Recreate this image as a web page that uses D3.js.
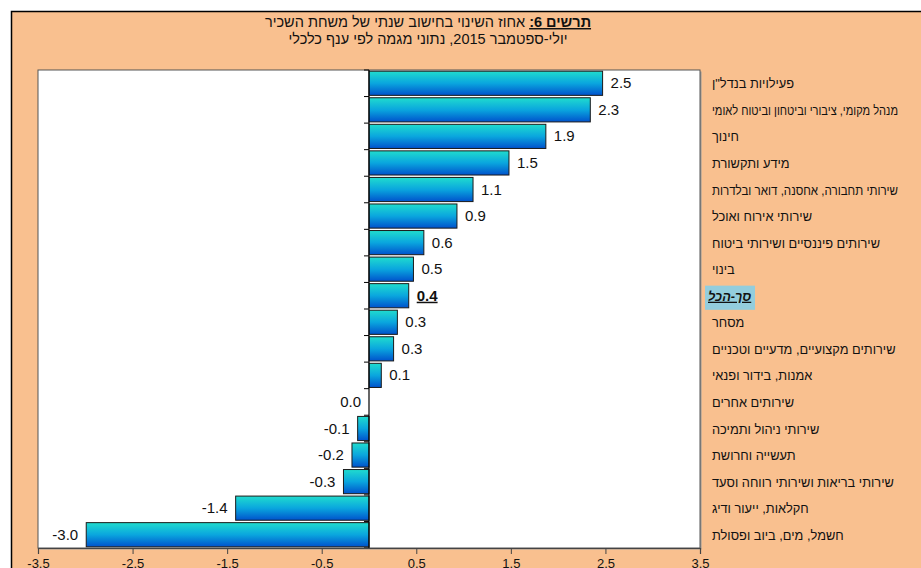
<!DOCTYPE html>
<html><head><meta charset="utf-8">
<script src="https://cdn.jsdelivr.net/npm/d3@7"></script>
<style>html,body{margin:0;padding:0;background:#fff;}svg{display:block;font-family:Arial,"Liberation Sans",sans-serif;}</style>
</head><body>
<svg id="c" width="921" height="568"></svg>
<script>
const categories = [
  'פעילויות בנדל"ן',
  "מנהל מקומי, ציבורי וביטחון וביטוח לאומי",
  "חינוך",
  "מידע ותקשורת",
  "שירותי תחבורה, אחסנה, דואר ובלדרות",
  "שירותי אירוח ואוכל",
  "שירותים פיננסיים ושירותי ביטוח",
  "בינוי",
  "סך-הכל",
  "מסחר",
  "שירותים מקצועיים, מדעיים וטכניים",
  "אמנות, בידור ופנאי",
  "שירותים אחרים",
  "שירותי ניהול ותמיכה",
  "תעשייה וחרושת",
  "שירותי בריאות ושירותי  רווחה וסעד",
  "חקלאות, ייעור ודיג",
  "חשמל, מים, ביוב ופסולת"
];
const values = [2.47, 2.34, 1.87, 1.48, 1.10, 0.93, 0.58, 0.47, 0.42, 0.30, 0.26, 0.13, 0.0, -0.12, -0.18, -0.27, -1.41, -2.99];
const totalCategory = "סך-הכל";
const xTicks = [-3.5, -2.5, -1.5, -0.5, 0.5, 1.5, 2.5, 3.5];
const titleLine1Bold = "תרשים 6:";
const titleLine1Rest = " אחוז השינוי בחישוב שנתי של  משחת השכיר";
const titleLine2 = "יולי-ספטמבר  2015, נתוני מגמה לפי ענף כלכלי";

const svg = d3.select("#c");
const W = 921, H = 568;
const plot = {l: 38, r: 700, t: 70, b: 548};
const locale = d3.formatLocale({decimal: ".", thousands: ",", grouping: [3], currency: ["", ""], minus: "-"});
const fmt = locale.format(".1f");

// background panel
svg.append("rect").attr("x", 0).attr("y", 0).attr("width", W).attr("height", H).attr("fill", "#fff");
svg.append("rect").attr("x", 11.5).attr("y", 11.5).attr("width", W).attr("height", H).attr("fill", "#f9c08f").attr("stroke", "#000").attr("stroke-width", 1.5);

// defs
const defs = svg.append("defs");
const g = defs.append("linearGradient").attr("id", "barGrad").attr("x1", 0).attr("y1", 0).attr("x2", 0).attr("y2", 1);
g.append("stop").attr("offset", "0%").attr("stop-color", "#20dcce");
g.append("stop").attr("offset", "50%").attr("stop-color", "#0aa6de");
g.append("stop").attr("offset", "100%").attr("stop-color", "#0052cc");

// title
const t1 = svg.append("text").attr("x", 428).attr("y", 27).attr("text-anchor", "middle").attr("direction", "rtl")
  .attr("font-size", 14.5).attr("fill", "#111");
t1.append("tspan").attr("font-weight", "bold").attr("text-decoration", "underline").text(titleLine1Bold);
t1.append("tspan").text(titleLine1Rest);
svg.append("text").attr("x", 428).attr("y", 44).attr("text-anchor", "middle").attr("direction", "rtl")
  .attr("font-size", 14.5).attr("fill", "#111").text(titleLine2);

// plot area
svg.append("rect").attr("x", plot.l + 1.5).attr("y", plot.t + 1.5).attr("width", plot.r - plot.l).attr("height", plot.b - plot.t)
  .attr("fill", "#9a9a9a");
svg.append("rect").attr("x", plot.l).attr("y", plot.t).attr("width", plot.r - plot.l).attr("height", plot.b - plot.t)
  .attr("fill", "#fff").attr("stroke", "#555").attr("stroke-width", 1);

const x = d3.scaleLinear().domain([-3.5, 3.5]).range([plot.l, plot.r]);
const y = d3.scaleBand().domain(categories).range([plot.t, plot.b]).paddingInner(0.09).paddingOuter(0.045);

// bars
svg.append("g").selectAll("rect").data(categories).join("rect")
  .attr("x", (d, i) => x(Math.min(0, values[i])))
  .attr("y", d => y(d))
  .attr("width", (d, i) => Math.abs(x(values[i]) - x(0)))
  .attr("height", y.bandwidth())
  .attr("fill", "url(#barGrad)")
  .attr("stroke", "#1a1a1a").attr("stroke-width", 1);

// zero axis with ticks at band boundaries
const zeroG = svg.append("g");
zeroG.append("line").attr("x1", x(0)).attr("x2", x(0)).attr("y1", plot.t).attr("y2", plot.b).attr("stroke", "#000").attr("stroke-width", 1.2);
const bounds = d3.range(categories.length + 1).map(i => plot.t + (plot.b - plot.t) * i / categories.length);
zeroG.selectAll("line.tk").data(bounds).join("line").attr("class", "tk")
  .attr("x1", x(0) - 5).attr("x2", x(0)).attr("y1", d => d).attr("y2", d => d)
  .attr("stroke", "#000").attr("stroke-width", 1);

// value labels
svg.append("g").selectAll("text").data(categories).join("text")
  .attr("x", (d, i) => values[i] > 0 ? x(values[i]) + 8 : x(values[i]) - 8)
  .attr("y", d => y(d) + y.bandwidth() / 2 + 5)
  .attr("text-anchor", (d, i) => values[i] > 0 ? "start" : "end")
  .attr("font-size", 15)
  .attr("fill", "#111")
  .attr("font-weight", d => d === totalCategory ? "bold" : null)
  .attr("text-decoration", d => d === totalCategory ? "underline" : null)
  .text((d, i) => fmt(values[i]));

// x axis
const xAxis = d3.axisBottom(x).tickValues(xTicks).tickSize(6).tickFormat(fmt);
const xg = svg.append("g").attr("transform", `translate(0,${plot.b})`).call(xAxis);
xg.select(".domain").attr("stroke", "#444").attr("stroke-width", 1.2);
xg.selectAll(".tick line").attr("stroke", "#444");
xg.selectAll(".tick text").attr("font-size", 13).attr("fill", "#111").attr("font-family", "Arial, 'Liberation Sans', sans-serif").attr("dy", "0.85em");

// category labels
const totalY = y(totalCategory);
svg.append("rect").attr("x", 705).attr("y", totalY + 2).attr("width", 50).attr("height", y.bandwidth())
  .attr("fill", "#93cddd");
const maxLabelW = 186;
const labs = svg.append("g").selectAll("text").data(categories).join("text")
  .attr("x", d => d === totalCategory ? 708 : 712)
  .attr("y", d => y(d) + y.bandwidth() / 2 + 5)
  .attr("text-anchor", "start")
  .attr("font-size", 12.8)
  .attr("fill", "#111")
  .attr("font-weight", d => d === totalCategory ? "bold" : null)
  .attr("font-style", d => d === totalCategory ? "italic" : null)
  .attr("text-decoration", d => d === totalCategory ? "underline" : null)
  .text(d => d);
labs.each(function() {
  const w = this.getComputedTextLength();
  if (w > maxLabelW) {
    d3.select(this).attr("textLength", maxLabelW).attr("lengthAdjust", "spacingAndGlyphs");
  }
});
</script>
</body></html>
